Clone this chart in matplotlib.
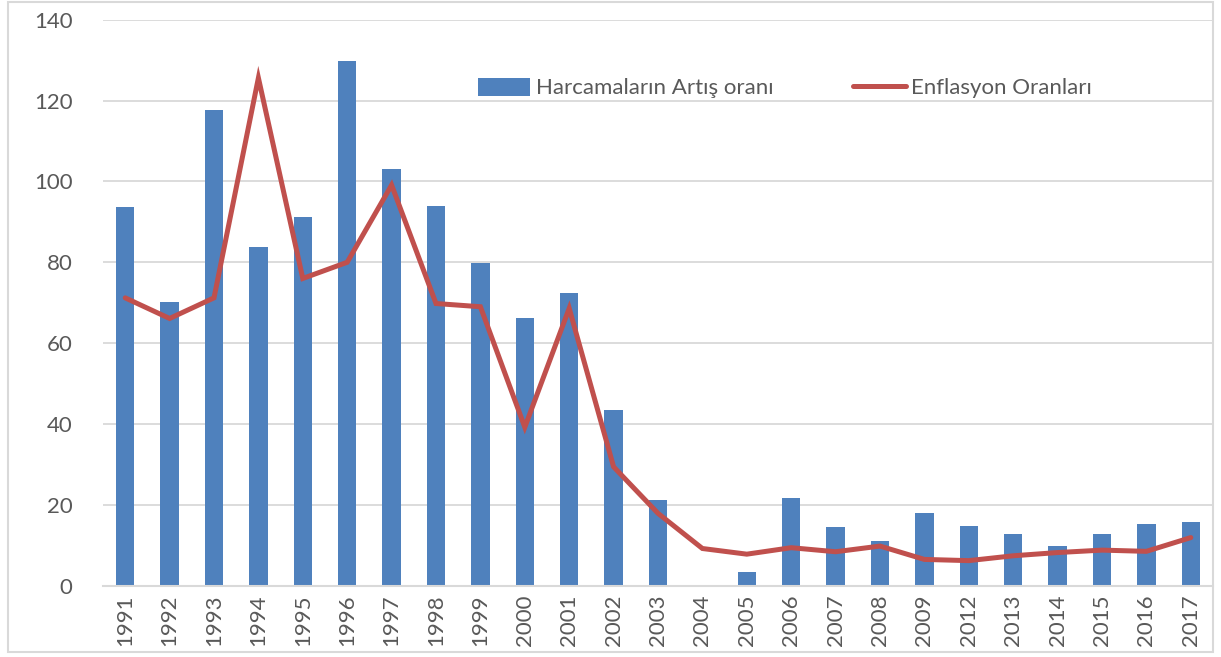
import matplotlib.pyplot as plt
from matplotlib.patches import Rectangle

# ----------------------------
# DATA
# ----------------------------

years = ["1991", "1992", "1993", "1994", "1995", "1996", "1997", "1998",
         "1999", "2000", "2001", "2002", "2003", "2004", "2005", "2006",
         "2007", "2008", "2009", "2012", "2013", "2014", "2015", "2016",
         "2017"]

harcama = [93.7, 70.1, 117.6, 83.9, 91.1, 129.7, 103.1, 93.9,
           79.8, 66.2, 72.4, 43.5, 21.2, 0.0, 3.5, 21.8,
           14.4, 11.1, 18.0, 14.8, 12.7, 9.7, 12.7, 15.3,
           15.8]

enflasyon = [71.2, 66.1, 71.2, 125.6, 76.0, 80.0, 99.1, 69.8,
             69.0, 39.2, 68.6, 29.4, 17.9, 9.2, 7.8, 9.4,
             8.4, 9.8, 6.5, 6.2, 7.4, 8.2, 8.8, 8.5,
             11.9]

yticks = [0, 20, 40, 60, 80, 100, 120, 140]

# ----------------------------
# STYLE
# ----------------------------

plt.rcParams["font.family"] = ["Lato", "DejaVu Sans"]

color_bar = "#4F81BD"
color_line = "#C0504D"
color_grid = "#D9D9D9"
color_text = "#595959"

W, H = 1221, 657
fig = plt.figure(figsize=(W / 100, H / 100), dpi=100)

# outer chart border
fig.patches.append(Rectangle((8 / W, 5 / H), 1205 / W, 650 / H,
                             transform=fig.transFigure, fill=False,
                             edgecolor=color_grid, linewidth=1.5))

ax = fig.add_axes([103 / W, 1 - 585.7 / H, 1110 / W, 566 / H])

x = list(range(len(years)))

bars = ax.bar(x, harcama, width=0.41, color=color_bar,
              label="Harcamaların Artış oranı", zorder=2)
line, = ax.plot(x, enflasyon, color=color_line, linewidth=3.6,
                solid_joinstyle="miter", solid_capstyle="round",
                label="Enflasyon Oranları", zorder=3)

ax.set_xlim(-0.5, len(years) - 0.5)
ax.set_ylim(0, 140)
ax.set_yticks(yticks)
ax.set_xticks(x)
ax.set_xticklabels(years, rotation=90)

ax.grid(axis="y", color=color_grid, linewidth=1.3, zorder=0)
ax.set_axisbelow(True)

for side in ["top", "left", "right"]:
    ax.spines[side].set_visible(False)
ax.spines["bottom"].set_color(color_grid)
ax.spines["bottom"].set_linewidth(1.5)

ax.tick_params(axis="both", length=0, labelsize=16, labelcolor=color_text)
ax.tick_params(axis="y", pad=22)
ax.tick_params(axis="x", pad=6)

fig.legend(handles=[bars, line],
           loc="center left", bbox_to_anchor=(478 / W, 1 - 88 / H),
           ncol=2, frameon=False, fontsize=16, labelcolor=color_text,
           borderpad=0, borderaxespad=0,
           handlelength=2.35, handleheight=0.9, handletextpad=0.25,
           columnspacing=3.6)

plt.savefig("out.png", dpi=100)
